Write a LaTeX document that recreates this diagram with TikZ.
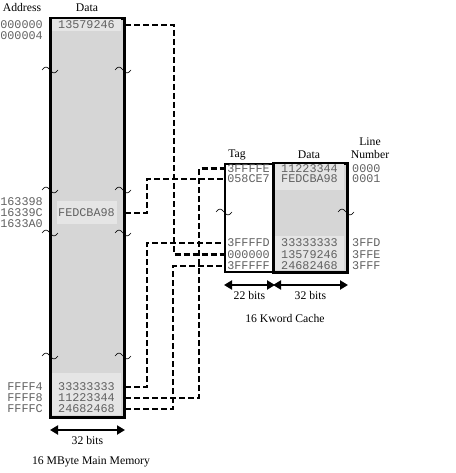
\documentclass[tikz,border=0pt]{standalone}
\usepackage{fontspec}
\setmainfont{Liberation Serif}
\setmonofont{Liberation Mono}
\usetikzlibrary{positioning, arrows.meta}
\newcommand{\cell}{\fontsize{11.8}{12}\selectfont\ttfamily\color{black!62}}
\newcommand{\lab}{\fontsize{11.7}{13}\selectfont}

\begin{document}
\begin{tikzpicture}[x=1pt, y=-1pt, font=\lab,
    col/.style ={draw, line width=2pt, inner sep=0pt, anchor=north west},
    val/.style ={font=\cell, inner sep=0pt, text height=7pt, text depth=0pt},
    adr/.style ={val, anchor=east},
    num/.style ={val, anchor=west},
    conn/.style={line width=2.5pt, dash pattern=on 6pt off 3pt},
    bits/.style={{Triangle[length=8pt,width=9pt]}-{Triangle[length=8pt,width=9pt]}, line width=2pt},
    brk/.pic   ={\draw[line width=0.6pt] (-8,0) sin (-4,-3) cos (0,0) sin (4,3) cos (8,0);}]
    \useasboundingbox (0,0) rectangle (455,473);
    % main memory
    \node[col, fill=black!16, minimum width=73pt, minimum height=398pt] (mm) at (50,18) {};
    \fill[black!10] (52,19) rectangle (121,31);
    \fill[black!10] (57,201) rectangle (117,224);
    \fill[black!10] (52,373) rectangle (121,415);
    \draw[line width=2pt] (mm.north west) rectangle (mm.south east);
    \node (haddr) at (22,8) {Address};
    \node (hdata) at (87,8) {Data};
    \node[val] (m0) at (86.5,25)  {13579246};
    \node[val] (m1) at (86.5,213) {FEDCBA98};
    \node[val] (m2) at (86.5,387) {33333333};
    \node[val] (m3) at (86.5,398) {11223344};
    \node[val] (m4) at (86.5,409) {24682468};
    \node[adr] (a0) at (43,25)  {000000};
    \node[adr] (a1) at (43,36)  {000004};
    \node[adr] (a2) at (43,202) {163398};
    \node[adr] (a3) at (43,213) {16339C};
    \node[adr] (a4) at (43,224) {1633A0};
    \node[adr] (a5) at (43,387) {FFFF4};
    \node[adr] (a6) at (43,398) {FFFF8};
    \node[adr] (a7) at (43,409) {FFFFC};
    \pic at (50,70) {brk};   \pic at (123,70) {brk};
    \pic at (50,190) {brk};  \pic at (123,190) {brk};
    \pic at (50,233) {brk};  \pic at (123,233) {brk};
    \pic at (50,356) {brk};  \pic at (123,356) {brk};
    \draw[bits] ([yshift=-12pt]mm.south west) -- node[below=2pt] (mbits) {32 bits} ([yshift=-12pt]mm.south east);
    \node (mcap) at (91,462) {16 MByte Main Memory};
    % cache
    \node[col, minimum width=49pt, minimum height=108pt] (tag) at (224,163) {};
    \node[col, fill=black!16, minimum width=73pt, minimum height=108pt] (cdat) at (273,163) {};
    \fill[black!10] (275,164) rectangle (344,190);
    \fill[black!10] (275,236) rectangle (344,270);
    \draw[line width=2pt] (cdat.north west) rectangle (cdat.south east);
    \node (htag) at (237,155) {Tag};
    \node (hcdat) at (309,155) {Data};
    \node[align=center] (hline) at (370,148) {Line\\Number};
    \node[val] (t0) at (248.5,168.5) {3FFFFE};
    \node[val] (t1) at (248.5,179) {058CE7};
    \node[val] (tD) at (248.5,243) {3FFFFD};
    \node[val] (tE) at (248.5,254.5) {000000};
    \node[val] (tF) at (248.5,266) {3FFFFF};
    \node[val] (d0) at (309.5,168.5) {11223344};
    \node[val] (d1) at (309.5,179) {FEDCBA98};
    \node[val] (dD) at (309.5,243) {33333333};
    \node[val] (dE) at (309.5,254.5) {13579246};
    \node[val] (dF) at (309.5,266) {24682468};
    \node[num] (n0) at (352,168.5) {0000};
    \node[num] (n1) at (352,179) {0001};
    \node[num] (nD) at (352,243) {3FFD};
    \node[num] (nE) at (352,254.5) {3FFE};
    \node[num] (nF) at (352,266) {3FFF};
    \pic at (224,212) {brk};  \pic at (346,212) {brk};
    \draw[bits] ([yshift=-12pt]tag.south west) -- node[below=2pt] (tbits) {22 bits} ([yshift=-12pt]tag.south east);
    \draw[bits] ([yshift=-12pt]cdat.south west) -- node[below=2pt] (dbits) {32 bits} ([yshift=-12pt]cdat.south east);
    \node (ccap) at (285,318) {16 Kword Cache};
    % mapping lines
    \draw[conn] (mm.east |- m0) -- ++(49,0) |- (tag.west |- tE);
    \draw[conn] (mm.east |- m1) -- ++(22,0) |- (tag.west |- t1);
    \draw[conn] (mm.east |- m2) -- ++(22,0) |- (tag.west |- tD);
    \draw[conn] (mm.east |- m3) -- ++(74,0) |- (tag.west |- t0);
    \draw[conn] (mm.east |- m4) -- ++(48,0) |- (tag.west |- tF);
\end{tikzpicture}
\end{document}
